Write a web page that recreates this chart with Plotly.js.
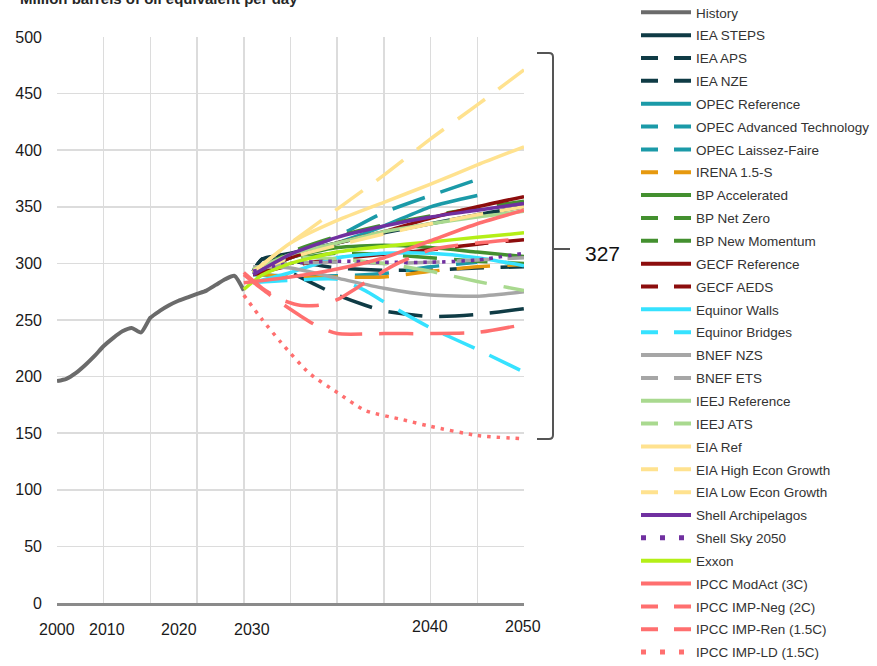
<!DOCTYPE html>
<html><head><meta charset="utf-8">
<script src="https://cdn.plot.ly/plotly-3.0.1.min.js"></script>
<style>html,body{margin:0;padding:0;background:#fff}#chart{width:877px;height:666px}</style>
</head><body><div id="chart"></div>
<script>
// ---------- DATA ----------
const historyYears  = [2000,2001,2002,2003,2004,2005,2006,2007,2008,2009,2010,2011,2012,2013,2014,2015,2016,2017,2018,2019,2020];
const historyValues = [196,198,203,210,218,227,234,240,243,239,252,258,263,267,270,273,276,281,286,289,276];

const projYears  = [2021,2025,2030,2035,2040,2045,2050];
const opecYears  = [2021,2025,2030,2035,2040,2045];
const ieaYears   = [2021,2022,2025,2030,2035,2040,2045,2050];
const ieaNzeYears = [2021,2022,2025,2030,2033,2035,2040,2045,2050];

const ieaSteps  = [293,304,309,318,327,335,343,350];
const ieaAps    = [293,304,302,296,294,294,296,297];
const ieaNze    = [293,304,292,272,263,258,253,255,260];

const opecRef   = [292,305,318,333,350,360];
const opecAdv   = [293,308,324,345,360,374];
const opecLF    = [290,289,289,291,297,301];

const irena15   = [291,288,288,288,293,297,299];
const bpAcc     = [291,305,314,316,314,310,306];
const bpNetZero = [291,303,309,308,305,302,300];
const bpNewMom  = [292,310,324,334,342,349,355];
const gecfRef   = [292,305,318,328,340,350,359];
const gecfAeds  = [290,298,304,308,312,317,321];
const eqWalls   = [283,292,305,309,309,305,298];
const eqBridgesYears = [2021,2025,2030,2033,2035,2040,2045,2050];
const eqBridges = [283,285,286,276,266,243,224,204];
const bnefNzs   = [297,296,287,278,272,271,275];
const bnefEts   = [295,300,301,300,301,303,305];
const ieejRef   = [294,308,318,328,335,341,346];
const ieejAts   = [295,305,304,300,293,284,276];
const eiaRef    = [292,318,338,354,370,387,403];
const eiaHigh   = [293,318,348,378,410,440,471];
const eiaLow    = [292,305,316,326,335,343,350];
const shellArch = [290,308,323,333,341,347,353];
const shellSky  = [293,300,302,301,301,303,309];
const exxonYears = [2020,2022,2025,2030,2035,2040,2045,2050];
const exxon     = [277,290,300,310,315,319,323,327];
const ipccModActYears = [2020,2025,2030,2035,2040,2045,2050];
const ipccModAct = [283,288,295,305,320,335,347];
const ipccNegYears = [2020,2022,2024,2026,2028,2030,2035,2040,2045,2050];
const ipccNeg    = [290,277,265,254,244,238,238,238,239,246];
const ipccRenYears = [2020,2022,2024,2026,2028,2030,2033,2036,2040,2045,2050];
const ipccRen    = [292,278,268,263,263,268,283,298,312,318,322];
const ipccLdYears = [2020,2022,2024,2027,2030,2033,2037,2040,2045,2050];
const ipccLd     = [272,250,230,203,186,170,162,156,148,145];

const rangeLabel = "327";
const yAxisTitle = "Million barrels of oil equivalent per day";
const xLabels = ["2000","2010","2020","2030","2040","2050"];

// ---------- STYLES ----------
const C = {
  hist:"#6b6b6b", iea:"#0f3b45", opec:"#1b9aa8", irena:"#e6990f", bp:"#43902f",
  gecf:"#8c0d0d", eq:"#36e2ff", bnef:"#a6a6a6", ieej:"#a9d98f", eia:"#ffe28f",
  shell:"#7030a0", exxon:"#b4ef17", ipcc:"#ff6f6f"
};
const DASH = "34px,17px", DOT = "3.5px,6px";
const LDASH = "17px,16px", LDOT = "5px,14px";

const series = [
  ["History", historyYears, historyValues, C.hist, "solid"],
  ["IEA STEPS", ieaYears, ieaSteps, C.iea, "solid"],
  ["IEA APS", ieaYears, ieaAps, C.iea, "dash"],
  ["IEA NZE", ieaNzeYears, ieaNze, C.iea, "dash"],
  ["OPEC Reference", opecYears, opecRef, C.opec, "solid"],
  ["OPEC Advanced Technology", opecYears, opecAdv, C.opec, "dash"],
  ["OPEC Laissez-Faire", opecYears, opecLF, C.opec, "dash"],
  ["IRENA 1.5-S", projYears, irena15, C.irena, "dash"],
  ["BP Accelerated", projYears, bpAcc, C.bp, "solid"],
  ["BP Net Zero", projYears, bpNetZero, C.bp, "dash"],
  ["BP New Momentum", projYears, bpNewMom, C.bp, "dash"],
  ["GECF Reference", projYears, gecfRef, C.gecf, "solid"],
  ["GECF AEDS", projYears, gecfAeds, C.gecf, "dash"],
  ["Equinor Walls", projYears, eqWalls, C.eq, "solid"],
  ["Equinor Bridges", eqBridgesYears, eqBridges, C.eq, "dash"],
  ["BNEF NZS", projYears, bnefNzs, C.bnef, "solid"],
  ["BNEF ETS", projYears, bnefEts, C.bnef, "dash"],
  ["IEEJ Reference", projYears, ieejRef, C.ieej, "solid"],
  ["IEEJ ATS", projYears, ieejAts, C.ieej, "dash"],
  ["EIA Ref", projYears, eiaRef, C.eia, "solid"],
  ["EIA High Econ Growth", projYears, eiaHigh, C.eia, "dash"],
  ["EIA Low Econ Growth", projYears, eiaLow, C.eia, "dash"],
  ["Shell Archipelagos", projYears, shellArch, C.shell, "solid"],
  ["Shell Sky 2050", projYears, shellSky, C.shell, "dot"],
  ["Exxon", exxonYears, exxon, C.exxon, "solid"],
  ["IPCC ModAct (3C)", ipccModActYears, ipccModAct, C.ipcc, "solid"],
  ["IPCC IMP-Neg (2C)", ipccNegYears, ipccNeg, C.ipcc, "dash"],
  ["IPCC IMP-Ren (1.5C)", ipccRenYears, ipccRen, C.ipcc, "dash"],
  ["IPCC IMP-LD (1.5C)", ipccLdYears, ipccLd, C.ipcc, "dot"]
];

const traces = [];
series.forEach(([name, xs, ys, color, kind]) => {
  const plotDash = kind === "dash" ? DASH : kind === "dot" ? DOT : "solid";
  traces.push({
    type:"scatter", mode:"lines", x:xs, y:ys, name:name, legendgroup:name,
    showlegend:false, hoverinfo:"skip",
    line:{color:color, width: name === "History" ? 4 : 3.5, dash:plotDash, shape:"spline", smoothing:0.6}
  });
});
// legend keys (no data)
series.forEach(([name, xs, ys, color, kind]) => {
  const legDash = kind === "dash" ? LDASH : kind === "dot" ? LDOT : "solid";
  traces.push({
    type:"scatter", mode:"lines", x:[null], y:[null], name:name, legendgroup:name,
    showlegend:true, hoverinfo:"skip",
    line:{color:color, width: kind === "dot" ? 5 : 4, dash:legDash}
  });
});

// ---------- LAYOUT ----------
const L = 57, T = 37, W = 467, H = 566;
const px = x => (x - L) / W;
const py = y => (T + H - y) / H;
const FONT = "Liberation Sans, Arial, sans-serif";

const xLabelPos = [[57,629],[107,629],[179,629],[252,629],[430,626],[523,626]];
const annotations = xLabels.map((t,i) => ({
  text:t, xref:"paper", yref:"paper", x:px(xLabelPos[i][0]), y:py(xLabelPos[i][1]),
  xanchor:"center", yanchor:"middle", showarrow:false, font:{family:FONT, size:16, color:"#1a1a1a"}
}));
annotations.push({
  text:"<b>"+yAxisTitle+"</b>", xref:"paper", yref:"paper", x:px(18), y:py(-1),
  xanchor:"left", yanchor:"middle", showarrow:false, font:{family:FONT, size:15, color:"#262626"}
});
annotations.push({
  text:rangeLabel, xref:"paper", yref:"paper", x:px(583), y:py(253),
  xanchor:"left", yanchor:"middle", showarrow:false, font:{family:FONT, size:21, color:"#111"}
});

const bracketPath =
  `M${px(537)},${py(53)} L${px(549)},${py(53)} Q${px(553)},${py(53)} ${px(553)},${py(57)} ` +
  `L${px(553)},${py(435)} Q${px(553)},${py(439)} ${px(549)},${py(439)} L${px(537)},${py(439)} ` +
  `M${px(553)},${py(249)} L${px(570)},${py(249)}`;

const layout = {
  width:877, height:666,
  margin:{l:L, r:877-L-W, t:T, b:666-T-H, pad:0},
  paper_bgcolor:"#fff", plot_bgcolor:"#fff",
  font:{family:FONT, color:"#1a1a1a"},
  showlegend:true,
  xaxis:{range:[2000,2050], dtick:5, tick0:2000, showgrid:true, gridcolor:"#dcdcdc", gridwidth:1.5,
         showticklabels:false, ticks:"", zeroline:false, showline:true, linecolor:"#8a8a8a", linewidth:2.5, fixedrange:true},
  yaxis:{range:[0,500], dtick:50, showgrid:true, gridcolor:"#dcdcdc", gridwidth:1.5, zeroline:false,
         ticks:"", ticklabelstandoff:14, tickfont:{family:FONT, size:16, color:"#1a1a1a"}, fixedrange:true},
  legend:{xref:"container", yref:"paper", x:636/877, y:py(-3), xanchor:"left", yanchor:"top",
          font:{family:FONT, size:13.5, color:"#333"}, itemwidth:50, tracegroupgap:2.3, maxheight:720,
          traceorder:"grouped", bgcolor:"rgba(0,0,0,0)", borderwidth:0, itemclick:false},
  shapes:[{type:"path", xref:"paper", yref:"paper", path:bracketPath, line:{color:"#555", width:2}}],
  annotations:annotations
};

Plotly.newPlot("chart", traces, layout, {displayModeBar:false, staticPlot:true});
</script>
</body></html>
